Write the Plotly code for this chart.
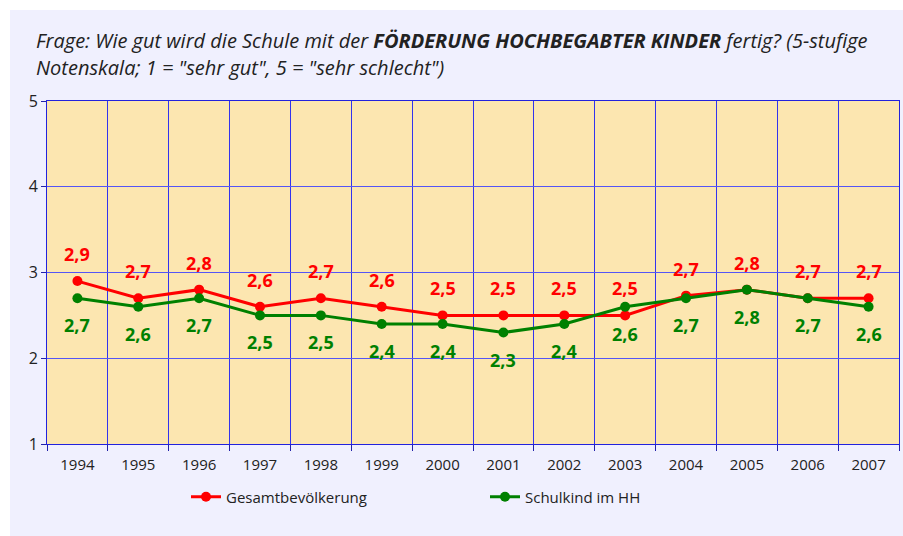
import plotly.graph_objects as go

years = [1994, 1995, 1996, 1997, 1998, 1999, 2000, 2001, 2002, 2003, 2004, 2005, 2006, 2007]
gesamt = [2.9, 2.7, 2.8, 2.6, 2.7, 2.6, 2.5, 2.5, 2.5, 2.5, 2.73, 2.8, 2.7, 2.7]
schulkind = [2.7, 2.6, 2.7, 2.5, 2.5, 2.4, 2.4, 2.3, 2.4, 2.6, 2.7, 2.8, 2.7, 2.6]
y_ticks = [1, 2, 3, 4, 5]

FONT = "Open Sans"
W, H = 903, 536
L, T = 47, 101
R = W - 899
B = H - 444
pw, ph = W - L - R, H - T - B

def fmt(v):
    return f"{v:.1f}".replace(".", ",")

def px_x(x):
    return (x - L) / pw

def px_y(y):
    return (ph + T - y) / ph

fig = go.Figure()
fig.add_trace(go.Scatter(
    x=years, y=gesamt, name="Gesamtbevölkerung", mode="lines+markers",
    line=dict(color="#FF0000", width=3), marker=dict(size=10, color="#FF0000"),
))
fig.add_trace(go.Scatter(
    x=years, y=schulkind, name="Schulkind im HH", mode="lines+markers",
    line=dict(color="#008000", width=3), marker=dict(size=10, color="#008000"),
))

annotations = []
for x, v in zip(years, gesamt):
    annotations.append(dict(x=x, y=v, text=fmt(v), showarrow=False, yshift=27,
                            font=dict(family=FONT, size=18, color="#FF0000", weight="bold")))
for x, v in zip(years, schulkind):
    annotations.append(dict(x=x, y=v, text=fmt(v), showarrow=False, yshift=-27,
                            font=dict(family=FONT, size=18, color="#008000", weight="bold")))

title_font = dict(family=FONT, size=20, color="#222222")
annotations.append(dict(xref="paper", yref="paper", x=px_x(34), y=px_y(40),
                        xanchor="left", yanchor="middle", showarrow=False,
                        text='<i>Frage: Wie gut wird die Schule mit der <b>FÖRDERUNG HOCHBEGABTER KINDER</b> fertig? (5-stufige</i>',
                        font=title_font))
annotations.append(dict(xref="paper", yref="paper", x=px_x(34), y=px_y(67),
                        xanchor="left", yanchor="middle", showarrow=False,
                        text='<i>Notenskala; 1 = "sehr gut", 5 = "sehr schlecht")</i>',
                        font=title_font))

shapes = [
    dict(type="rect", xref="paper", yref="paper", layer="below",
         x0=px_x(10), x1=px_x(W + 40), y0=px_y(H + 40), y1=px_y(10),
         fillcolor="#F0F0FE", line=dict(width=0)),
    dict(type="rect", xref="paper", yref="paper", layer="below",
         x0=0, x1=1, y0=0, y1=1, fillcolor="#FCE6B0", line=dict(width=0)),
]

fig.update_layout(
    width=W, height=H,
    margin=dict(l=L, r=R, t=T, b=B, autoexpand=False),
    paper_bgcolor="white", plot_bgcolor="rgba(0,0,0,0)",
    shapes=shapes, annotations=annotations,
    font=dict(family=FONT, color="#222222"),
    xaxis=dict(
        range=[1993.5, 2007.5], tickvals=years, ticktext=[str(y) for y in years],
        showgrid=False, ticks="", zeroline=False, automargin=False,
        showline=True, linecolor="#2222DD", linewidth=1, mirror=True,
        tickfont=dict(size=15, color="#222222"), ticklabelstandoff=7,
        minor=dict(tick0=1993.5, dtick=1, showgrid=True, gridcolor="#3333EE", gridwidth=1,
                   ticks="outside", ticklen=6, tickcolor="#2222AA"),
    ),
    yaxis=dict(
        range=[1, 5], tickvals=y_ticks, showgrid=True, gridcolor="#5555F5", gridwidth=1,
        zeroline=False, showline=True, linecolor="#2222DD", linewidth=1, mirror=True,
        ticks="outside", ticklen=5, tickcolor="#2222AA", automargin=False,
        tickfont=dict(size=16, color="#222222"),
    ),
    showlegend=True,
    legend=dict(
        orientation="h", xref="container", yref="container",
        x=186 / W, xanchor="left", y=1 - 497 / H, yanchor="middle",
        entrywidth=254, entrywidthmode="pixels",
        font=dict(size=15, color="#222222"), bgcolor="rgba(0,0,0,0)",
    ),
)

fig.write_html(
    "out.html",
    config={"displayModeBar": False},
    post_script="document.body.style.margin='0';document.body.style.overflow='hidden';",
)
